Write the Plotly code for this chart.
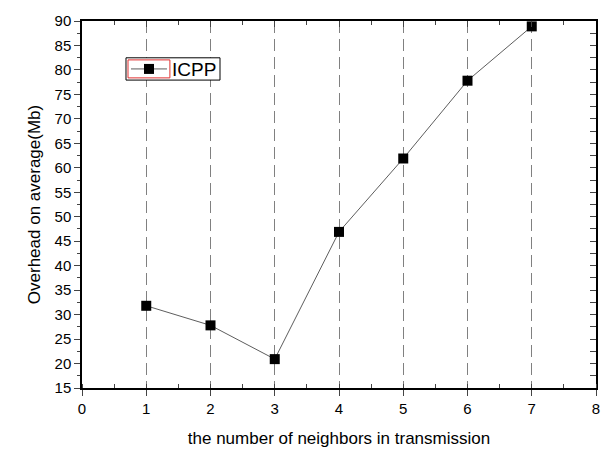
import plotly.graph_objects as go

neighbors = [1, 2, 3, 4, 5, 6, 7]
overhead = [31.8, 27.8, 20.9, 46.9, 61.9, 77.8, 88.9]
series_name = "ICPP"
x_title = "the number of neighbors in transmission"
y_title = "Overhead on average(Mb)"

font = "Liberation Sans, Arial, sans-serif"

fig = go.Figure()
fig.add_trace(go.Scatter(
    x=neighbors, y=overhead, name=series_name, mode="lines+markers",
    line=dict(color="#333333", width=0.8),
    marker=dict(symbol="square", size=10, color="black"),
))
# invisible trace to anchor mirrored axes (top/right with inward ticks)
fig.add_trace(go.Scatter(x=[0, 8], y=[15, 90], xaxis="x2", yaxis="y2",
                         mode="markers", marker=dict(opacity=0), showlegend=False,
                         hoverinfo="skip"))

axis_common = dict(showline=True, linecolor="black", linewidth=1.5,
                   tickfont=dict(family=font, size=15, color="black"),
                   zeroline=False)

fig.update_layout(
    width=616, height=457,
    margin=dict(l=82, r=20, t=18, b=60),
    paper_bgcolor="white", plot_bgcolor="white",
    font=dict(family=font, color="black"),
    xaxis=dict(range=[0, 8], dtick=1, tick0=0, ticks="outside", ticklen=6,
               tickwidth=1, showgrid=True, gridcolor="#808080", griddash="12px,6px",
               gridwidth=1,
               minor=dict(dtick=0.5, ticks="inside", ticklen=4, showgrid=False),
               title=dict(text=x_title, font=dict(family=font, size=17), standoff=16),
               **axis_common),
    yaxis=dict(range=[15, 90], dtick=5, tick0=15, ticks="outside", ticklen=6,
               tickwidth=1, showgrid=False,
               minor=dict(dtick=2.5, ticks="outside", ticklen=3),
               title=dict(text=y_title, font=dict(family=font, size=17), standoff=10),
               **axis_common),
    xaxis2=dict(range=[0, 8], dtick=1, overlaying="x", side="top", anchor="y2",
                ticks="inside", ticklen=6, showticklabels=False, showgrid=False,
                minor=dict(dtick=0.5, ticks="inside", ticklen=4),
                showline=True, linecolor="black", linewidth=1.5, zeroline=False),
    yaxis2=dict(range=[15, 90], dtick=5, tick0=15, overlaying="y", side="right",
                anchor="x2", ticks="inside", ticklen=6, showticklabels=False,
                showgrid=False, minor=dict(dtick=2.5, ticks="inside", ticklen=6),
                showline=True, linecolor="black", linewidth=1.5, zeroline=False),
    legend=dict(x=0.0856, y=0.869, xanchor="left", yanchor="middle",
                borderwidth=0, bgcolor="rgba(0,0,0,0)",
                font=dict(family=font, size=19), itemwidth=36,
                tracegroupgap=0),
    showlegend=True,
)
# legend frame (white box with black border) and red inner frame around symbol
fig.add_shape(type="rect", xref="paper", yref="paper", layer="above",
              x0=0.0856, x1=0.2685, y0=0.839, y1=0.8997,
              line=dict(color="black", width=1), fillcolor="white")
fig.add_shape(type="rect", xref="paper", yref="paper", layer="above",
              x0=0.0895, x1=0.171, y0=0.845, y1=0.894,
              line=dict(color="#e03030", width=1))

fig.write_html("out.html")
